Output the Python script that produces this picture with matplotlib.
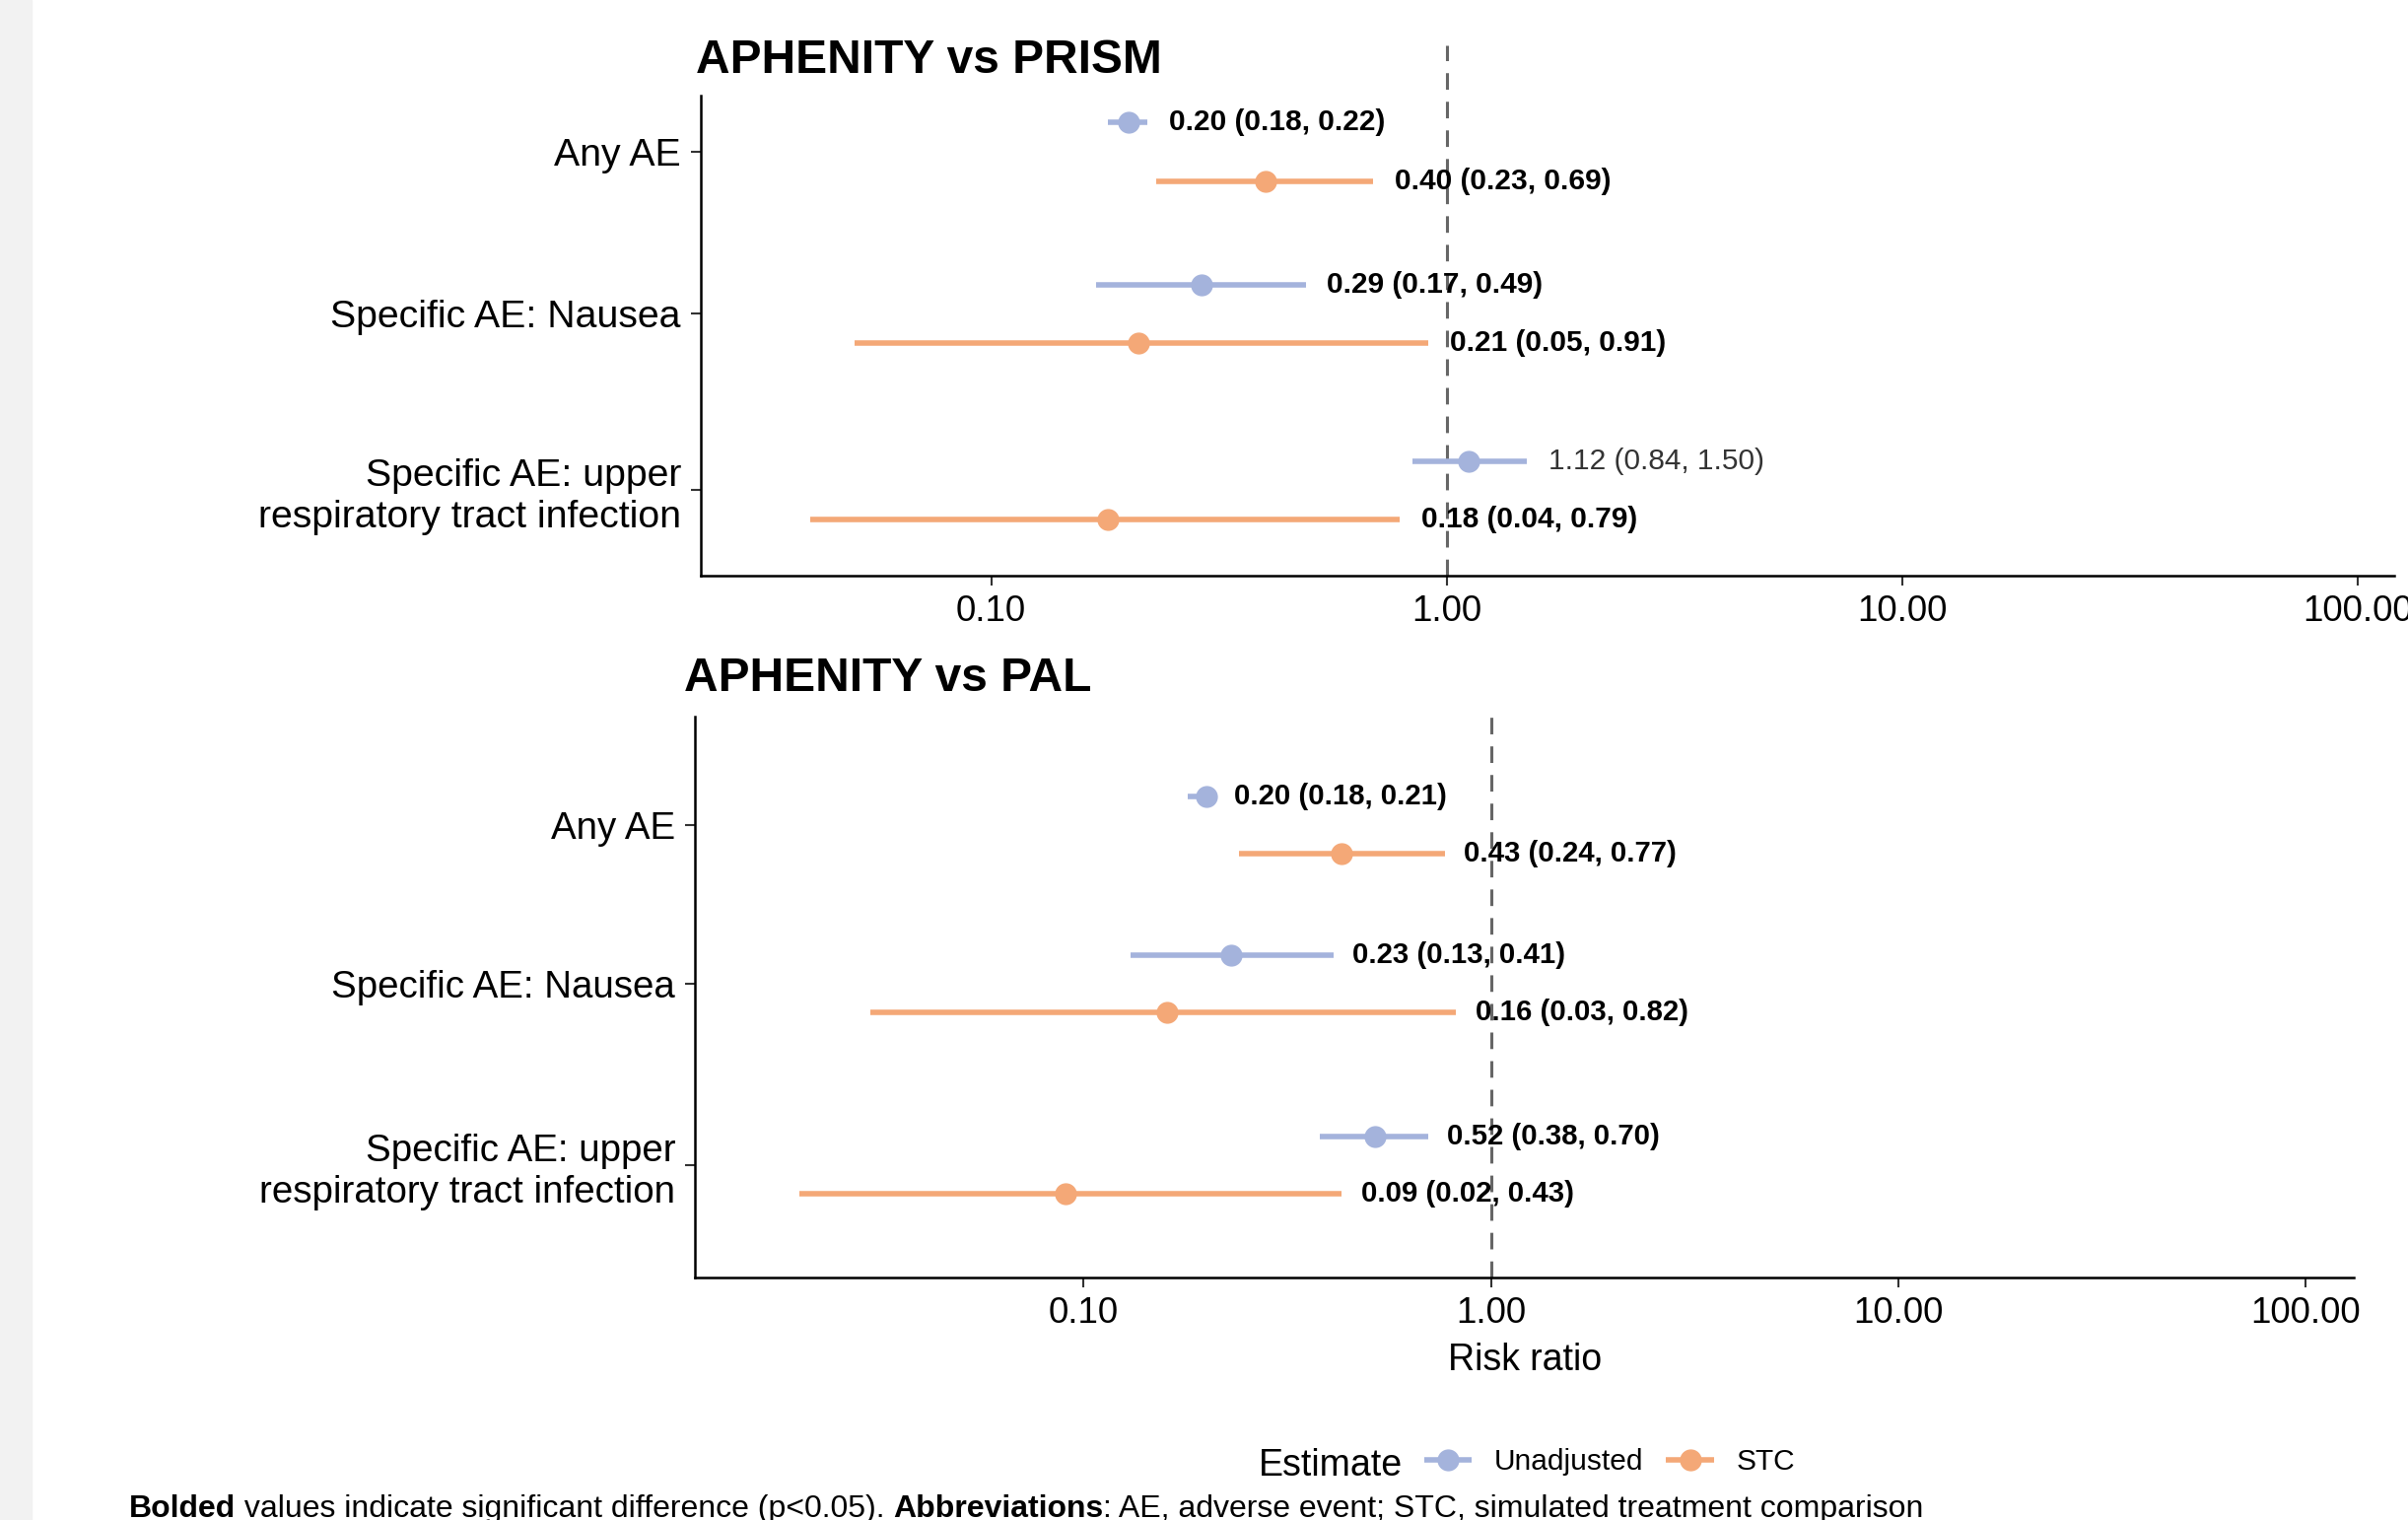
import matplotlib
matplotlib.use('Agg')
import matplotlib.pyplot as plt
from matplotlib.lines import Line2D
from matplotlib.patches import Rectangle

plt.rcParams['font.family'] = ['Liberation Sans', 'DejaVu Sans']

outcomes = ['Any AE', 'Specific AE: Nausea', 'Specific AE: upper\nrespiratory tract infection']

# APHENITY vs PRISM
prism_unadj = [0.20, 0.29, 1.12]
prism_unadj_lo = [0.18, 0.17, 0.84]
prism_unadj_hi = [0.22, 0.49, 1.50]
prism_stc = [0.40, 0.21, 0.18]
prism_stc_lo = [0.23, 0.05, 0.04]
prism_stc_hi = [0.69, 0.91, 0.79]

# APHENITY vs PAL
pal_unadj = [0.20, 0.23, 0.52]
pal_unadj_lo = [0.18, 0.13, 0.38]
pal_unadj_hi = [0.21, 0.41, 0.70]
pal_stc = [0.43, 0.16, 0.09]
pal_stc_lo = [0.24, 0.03, 0.02]
pal_stc_hi = [0.77, 0.82, 0.43]

xticks = [0.1, 1, 10, 100]

blue = '#a4b3dc'
orange = '#f4a877'

W, H = 2443, 1542
fig = plt.figure(figsize=(W / 100, H / 100), dpi=100)
fig.add_artist(Rectangle((0, 0), 31.5 / W, 1, transform=fig.transFigure,
                         color='#f2f2f2', zorder=-5))


def draw_panel(ax, rows, dodge, xlim, vline_top, series, ysize, vsize):
    ax.set_xscale('log')
    ax.set_xlim(xlim)
    ax.set_ylim(1, 0)
    ax.axvline(1, ymin=0, ymax=vline_top, color='#666666', lw=2.2,
               ls=(0, (5.5, 4)), clip_on=False, zorder=0)
    for shift, est, lo, hi, col in series:
        ys = [r + shift * dodge for r in rows]
        ax.hlines(ys, lo, hi, colors=col, lw=4, capstyle='butt', zorder=2)
        ax.plot(est, ys, 'o', ms=15, color=col, zorder=3)
        for e, l, h, y in zip(est, lo, hi, ys):
            sig = h < 1 or l > 1
            ax.text(h * 1.115, y, f'{e:.2f} ({l:.2f}, {h:.2f})', va='center',
                    ha='left', fontsize=vsize,
                    fontweight='bold' if sig else 'normal',
                    color='black' if sig else '#333333', zorder=4)
    ax.set_yticks(rows)
    ax.set_yticklabels(outcomes, fontsize=ysize)
    ax.set_xticks(xticks)
    ax.set_xticklabels([f'{t:.2f}' for t in xticks], fontsize=26.5)
    ax.minorticks_off()
    for s in ['top', 'right']:
        ax.spines[s].set_visible(False)
    for s in ['left', 'bottom']:
        ax.spines[s].set_linewidth(1.8)
    ax.tick_params(axis='both', length=7.2, width=1.5, color='#333333',
                   pad=7, labelcolor='black')
    ax.patch.set_alpha(0)


ax1 = fig.add_axes([710.6 / W, 1 - 583.7 / H, (2429 - 710.6) / W, (583.7 - 97.4) / H])
draw_panel(ax1, [0.1164, 0.454, 0.822], 0.0609, (0.02298, 120.5), 1.1065,
           [(-1, prism_unadj, prism_unadj_lo, prism_unadj_hi, blue),
            (1, prism_stc, prism_stc_lo, prism_stc_hi, orange)], 28.3, 21.5)

ax2 = fig.add_axes([704.9 / W, 1 - 1295.5 / H, (2388 - 704.9) / W, (1295.5 - 727.4) / H])
draw_panel(ax2, [0.1937, 0.477, 0.801], 0.051, (0.01109, 131.5), 1.0,
           [(-1, pal_unadj, pal_unadj_lo, pal_unadj_hi, blue),
            (1, pal_stc, pal_stc_lo, pal_stc_hi, orange)], 27.7, 21.2)

fig.text(706 / W, 1 - 74 / H, 'APHENITY vs PRISM', fontsize=34.5,
         fontweight='bold', va='baseline', ha='left')
fig.text(694 / W, 1 - 700.7 / H, 'APHENITY vs PAL', fontsize=34.5,
         fontweight='bold', va='baseline', ha='left')

fig.text(1547 / W, 1 - 1390 / H, 'Risk ratio', fontsize=27, ha='center', va='baseline')

# legend
fig.text(1276.8 / W, 1 - 1497 / H, 'Estimate', fontsize=27, ha='left', va='baseline')
handles = [Line2D([], [], color=blue, lw=4, marker='o', ms=15, solid_capstyle='butt'),
           Line2D([], [], color=orange, lw=4, marker='o', ms=15, solid_capstyle='butt')]
fig.legend(handles, ['Unadjusted', 'STC'], loc='center left',
           bbox_to_anchor=(1444.6 / W, 1 - 1483 / H), ncol=2, frameon=False,
           fontsize=21.5, handlelength=1.63, handletextpad=0.76,
           columnspacing=0.77, borderpad=0, borderaxespad=0)

# footnote with bold pieces
pieces = [('Bolded', 'bold'),
          (' values indicate significant difference (p<0.05). ', 'normal'),
          ('Abbreviations', 'bold'),
          (': AE, adverse event; STC, simulated treatment comparison', 'normal')]
renderer = fig.canvas.get_renderer()
x = 130.7
for txt, wt in pieces:
    t = fig.text(x / W, 1 - 1539 / H, txt, fontsize=23, fontweight=wt,
                 ha='left', va='baseline')
    x += t.get_window_extent(renderer).width

fig.savefig('out.png', dpi=100)
